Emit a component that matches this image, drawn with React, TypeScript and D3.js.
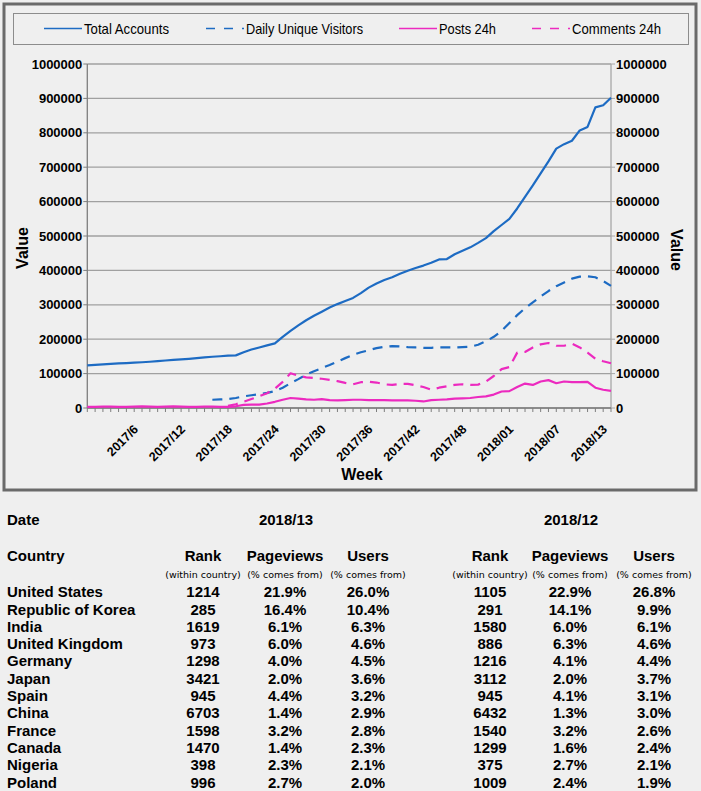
import React, { useEffect } from "react";
import * as d3 from "d3";

// ---------- data ----------
const weeks: string[] = [
  "2016/51", "2016/52",
  "2017/1", "2017/2", "2017/3", "2017/4", "2017/5", "2017/6", "2017/7", "2017/8", "2017/9", "2017/10",
  "2017/11", "2017/12", "2017/13", "2017/14", "2017/15", "2017/16", "2017/17", "2017/18", "2017/19", "2017/20",
  "2017/21", "2017/22", "2017/23", "2017/24", "2017/25", "2017/26", "2017/27", "2017/28", "2017/29", "2017/30",
  "2017/31", "2017/32", "2017/33", "2017/34", "2017/35", "2017/36", "2017/37", "2017/38", "2017/39", "2017/40",
  "2017/41", "2017/42", "2017/43", "2017/44", "2017/45", "2017/46", "2017/47", "2017/48", "2017/49", "2017/50",
  "2017/51", "2017/52", "2017/53",
  "2018/01", "2018/02", "2018/03", "2018/04", "2018/05", "2018/06", "2018/07", "2018/08", "2018/09", "2018/10",
  "2018/11", "2018/12", "2018/13",
];

const tickWeeks: string[] = [
  "2017/6", "2017/12", "2017/18", "2017/24", "2017/30", "2017/36",
  "2017/42", "2017/48", "2018/01", "2018/07", "2018/13",
];

const totalAccounts: number[] = [
  124000, 125500, 127000, 128000, 129500, 130500, 132000, 133000, 134500, 136000,
  138000, 140000, 141500, 143000, 145000, 147000, 149000, 150500, 152000, 153000,
  162000, 170000, 176000, 182000, 188000, 207000, 224000, 240000, 255000, 268000,
  280000, 292000, 302000, 311000, 320000, 334000, 350000, 362000, 372000, 380000,
  390000, 399000, 407000, 414000, 422000, 432000, 433000, 447000, 457000, 467000,
  480000, 494000, 514000, 532000, 550000, 580000, 614000, 647000, 682000, 717000,
  754000, 767000, 777000, 807000, 817000, 874000, 880000, 902000,
];

const dailyUniqueVisitors: (number | null)[] = [
  null, null, null, null, null, null, null, null, null, null,
  null, null, null, null, null, null, 24000, 25000, 26000, 29000,
  34000, 37000, 40000, 44000, 49000, 59000, 72000, 84000, 97000, 107000,
  116000, 125000, 135000, 145000, 155000, 162000, 168000, 174000, 178000, 180000,
  179000, 177000, 176000, 175000, 175000, 176000, 176000, 176000, 177000, 178000,
  184000, 194000, 207000, 224000, 247000, 270000, 290000, 307000, 324000, 340000,
  354000, 365000, 376000, 382000, 383000, 380000, 369000, 355000,
];

const posts24h: number[] = [
  3000, 3000, 4000, 4000, 3000, 3000, 4000, 5000, 4000, 3000,
  4000, 5000, 4000, 3000, 3000, 4000, 4000, 3000, 3000, 5000,
  9000, 10000, 10000, 13000, 18000, 24000, 29000, 27000, 25000, 24000,
  26000, 23000, 22000, 23000, 24000, 24000, 23000, 23000, 23000, 22000,
  22000, 22000, 21000, 19000, 23000, 24000, 25000, 27000, 28000, 29000,
  32000, 34000, 39000, 48000, 49000, 61000, 71000, 67000, 77000, 81000,
  72000, 77000, 75000, 75000, 76000, 59000, 53000, 50000,
];

const comments24h: (number | null)[] = [
  null, null, null, null, null, null, null, null, null, null,
  null, null, null, null, null, null, null, null, 6000, 11000,
  18000, 26000, 34000, 43000, 56000, 76000, 101000, 94000, 89000, 87000,
  85000, 82000, 78000, 73000, 69000, 75000, 76000, 74000, 69000, 67000,
  70000, 70000, 66000, 61000, 53000, 59000, 63000, 67000, 69000, 67000,
  68000, 77000, 93000, 113000, 119000, 161000, 163000, 176000, 185000, 189000,
  181000, 181000, 187000, 176000, 161000, 143000, 136000, 130000,
];

const yTicks: number[] = [0, 100000, 200000, 300000, 400000, 500000, 600000, 700000, 800000, 900000, 1000000];

const legendNames: string[] = ["Total Accounts", "Daily Unique Visitors", "Posts 24h", "Comments 24h"];

const countries: string[] = [
  "United States", "Republic of Korea", "India", "United Kingdom", "Germany", "Japan",
  "Spain", "China", "France", "Canada", "Nigeria", "Poland",
];
const rank13: number[] = [1214, 285, 1619, 973, 1298, 3421, 945, 6703, 1598, 1470, 398, 996];
const pageviews13: number[] = [21.9, 16.4, 6.1, 6.0, 4.0, 2.0, 4.4, 1.4, 3.2, 1.4, 2.3, 2.7];
const users13: number[] = [26.0, 10.4, 6.3, 4.6, 4.5, 3.6, 3.2, 2.9, 2.8, 2.3, 2.1, 2.0];
const rank12: number[] = [1105, 291, 1580, 886, 1216, 3112, 945, 6432, 1540, 1299, 375, 1009];
const pageviews12: number[] = [22.9, 14.1, 6.0, 6.3, 4.1, 2.0, 4.1, 1.3, 3.2, 1.6, 2.7, 2.4];
const users12: number[] = [26.8, 9.9, 6.1, 4.6, 4.4, 3.7, 3.1, 3.0, 2.6, 2.4, 2.1, 1.9];

// ---------- styles ----------
const BG = "#efefef";
const BLUE = "#1d6bc3";
const PINK = "#ec2abf";
const AXIS_FONT = "'Liberation Sans', Arial, sans-serif";
const LEGEND_FONT = "'Liberation Sans Narrow', 'Arial Narrow', 'Liberation Sans', sans-serif";

const W = 701;
const H = 791;
const plot = { left: 87.3, right: 611, top: 64, bottom: 408 };

export default function App() {
  useEffect(() => {
    document.body.style.margin = "0";
    document.body.style.background = BG;
  }, []);

  const x = d3.scalePoint<string>().domain(weeks).range([plot.left, plot.right]);
  const y = d3.scaleLinear().domain([0, 1000000]).range([plot.bottom, plot.top]);

  const mk = (vals: (number | null)[]) =>
    d3
      .line<number | null>()
      .defined((d) => d !== null)
      .x((_, i) => x(weeks[i]) as number)
      .y((d) => y(d as number))(vals) || "";

  const series = [
    { name: legendNames[0], vals: totalAccounts, color: BLUE, dash: "" },
    { name: legendNames[1], vals: dailyUniqueVisitors, color: BLUE, dash: "10,7" },
    { name: legendNames[2], vals: posts24h, color: PINK, dash: "" },
    { name: legendNames[3], vals: comments24h, color: PINK, dash: "10,7" },
  ];

  const legendX = [44, 206, 399, 532];
  const legendTextW = [85, 117, 57, 89];

  const colRank13 = 203, colPv13 = 285, colUs13 = 368;
  const colRank12 = 490, colPv12 = 570, colUs12 = 654;
  const rowY0 = 592, rowStep = 17.3;
  const fmt = (v: number) => v.toFixed(1) + "%";

  return (
    <svg width={W} height={H} style={{ display: "block", background: BG }}>
      <rect x={0} y={0} width={W} height={H} fill={BG} />
      {/* outer chart frame */}
      <rect x={4} y={4} width={692} height={486} fill={BG} stroke="#6a6a6a" strokeWidth={3} />
      {/* legend box */}
      <rect x={13.5} y={13.5} width={675} height={31} fill={BG} stroke="#8c8c8c" strokeWidth={1} />
      {series.map((s, i) => (
        <g key={s.name}>
          <line
            x1={legendX[i]}
            x2={legendX[i] + 38}
            y1={28.5}
            y2={28.5}
            stroke={s.color}
            strokeWidth={1.5}
            strokeDasharray={s.dash ? "9,9" : undefined}
          />
          <text
            x={legendX[i] + 40}
            y={28.5}
            dy="0.35em"
            fontFamily={LEGEND_FONT}
            fontSize={15}
            textLength={legendTextW[i]}
            lengthAdjust="spacingAndGlyphs"
            fill="#000"
          >
            {s.name}
          </text>
        </g>
      ))}

      {/* gridlines */}
      {yTicks.map((t) => (
        <line key={"g" + t} x1={plot.left} x2={plot.right} y1={y(t)} y2={y(t)} stroke="#a0a0a0" strokeWidth={1.3} />
      ))}

      {/* axes */}
      <line x1={plot.left} x2={plot.left} y1={plot.top} y2={plot.bottom} stroke="#7e7e7e" strokeWidth={1.3} />
      <line x1={plot.right} x2={plot.right} y1={plot.top} y2={plot.bottom} stroke="#a8a8a8" strokeWidth={1.3} />
      <line x1={plot.left} x2={plot.right} y1={plot.bottom} y2={plot.bottom} stroke="#7e7e7e" strokeWidth={1.3} />

      {yTicks.map((t) => (
        <g key={"t" + t}>
          <line x1={plot.left - 4} x2={plot.left} y1={y(t)} y2={y(t)} stroke="#7e7e7e" />
          <line x1={plot.right} x2={plot.right + 4} y1={y(t)} y2={y(t)} stroke="#a8a8a8" />
          <text x={plot.left - 5} y={y(t)} dy="0.36em" textAnchor="end" fontFamily={AXIS_FONT} fontWeight="bold" fontSize={13}>
            {t}
          </text>
          <text x={plot.right + 5} y={y(t)} dy="0.36em" textAnchor="start" fontFamily={AXIS_FONT} fontWeight="bold" fontSize={13}>
            {t}
          </text>
        </g>
      ))}

      {weeks.map((w) => (
        <line key={"xt" + w} x1={x(w)} x2={x(w)} y1={plot.bottom} y2={plot.bottom + 4} stroke="#7e7e7e" />
      ))}
      {tickWeeks.map((w) => (
        <text
          key={"xl" + w}
          transform={`translate(${(x(w) as number) - 3},${plot.bottom + 22}) rotate(-45)`}
          textAnchor="end"
          fontFamily={AXIS_FONT}
          fontWeight="bold"
          fontSize={12.5}
        >
          {w}
        </text>
      ))}

      {/* axis titles */}
      <text
        transform="translate(22,248) rotate(-90)"
        textAnchor="middle"
        dy="0.35em"
        fontFamily={AXIS_FONT}
        fontWeight="bold"
        fontSize={16}
      >
        Value
      </text>
      <text
        transform="translate(677,250) rotate(90)"
        textAnchor="middle"
        dy="0.35em"
        fontFamily={AXIS_FONT}
        fontWeight="bold"
        fontSize={16}
      >
        Value
      </text>
      <text x={362} y={474} dy="0.35em" textAnchor="middle" fontFamily={AXIS_FONT} fontWeight="bold" fontSize={16}>
        Week
      </text>

      {/* series */}
      {series.map((s) => (
        <path
          key={"p" + s.name}
          d={mk(s.vals)}
          fill="none"
          stroke={s.color}
          strokeWidth={2.2}
          strokeDasharray={s.dash || undefined}
          strokeLinejoin="round"
        />
      ))}

      {/* table */}
      <g fontFamily={AXIS_FONT} fontWeight="bold" fontSize={15} fill="#000">
        <text x={7} y={520} dy="0.35em">Date</text>
        <text x={286} y={520} dy="0.35em" textAnchor="middle">2018/13</text>
        <text x={571} y={520} dy="0.35em" textAnchor="middle">2018/12</text>

        <text x={7} y={556} dy="0.35em">Country</text>
        <text x={colRank13} y={556} dy="0.35em" textAnchor="middle">Rank</text>
        <text x={colPv13} y={556} dy="0.35em" textAnchor="middle">Pageviews</text>
        <text x={colUs13} y={556} dy="0.35em" textAnchor="middle">Users</text>
        <text x={colRank12} y={556} dy="0.35em" textAnchor="middle">Rank</text>
        <text x={colPv12} y={556} dy="0.35em" textAnchor="middle">Pageviews</text>
        <text x={colUs12} y={556} dy="0.35em" textAnchor="middle">Users</text>
      </g>
      <g fontFamily="'DejaVu Sans', sans-serif" fontSize={9.5} fill="#000" textAnchor="middle">
        <text x={colRank13} y={575} dy="0.35em">(within country)</text>
        <text x={colPv13} y={575} dy="0.35em">(% comes from)</text>
        <text x={colUs13} y={575} dy="0.35em">(% comes from)</text>
        <text x={colRank12} y={575} dy="0.35em">(within country)</text>
        <text x={colPv12} y={575} dy="0.35em">(% comes from)</text>
        <text x={colUs12} y={575} dy="0.35em">(% comes from)</text>
      </g>
      <g fontFamily={AXIS_FONT} fontWeight="bold" fontSize={15} fill="#000">
        {countries.map((c, i) => {
          const yy = rowY0 + i * rowStep;
          return (
            <g key={c}>
              <text x={7} y={yy} dy="0.35em">{c}</text>
              <text x={colRank13} y={yy} dy="0.35em" textAnchor="middle">{rank13[i]}</text>
              <text x={colPv13} y={yy} dy="0.35em" textAnchor="middle">{fmt(pageviews13[i])}</text>
              <text x={colUs13} y={yy} dy="0.35em" textAnchor="middle">{fmt(users13[i])}</text>
              <text x={colRank12} y={yy} dy="0.35em" textAnchor="middle">{rank12[i]}</text>
              <text x={colPv12} y={yy} dy="0.35em" textAnchor="middle">{fmt(pageviews12[i])}</text>
              <text x={colUs12} y={yy} dy="0.35em" textAnchor="middle">{fmt(users12[i])}</text>
            </g>
          );
        })}
      </g>
    </svg>
  );
}
